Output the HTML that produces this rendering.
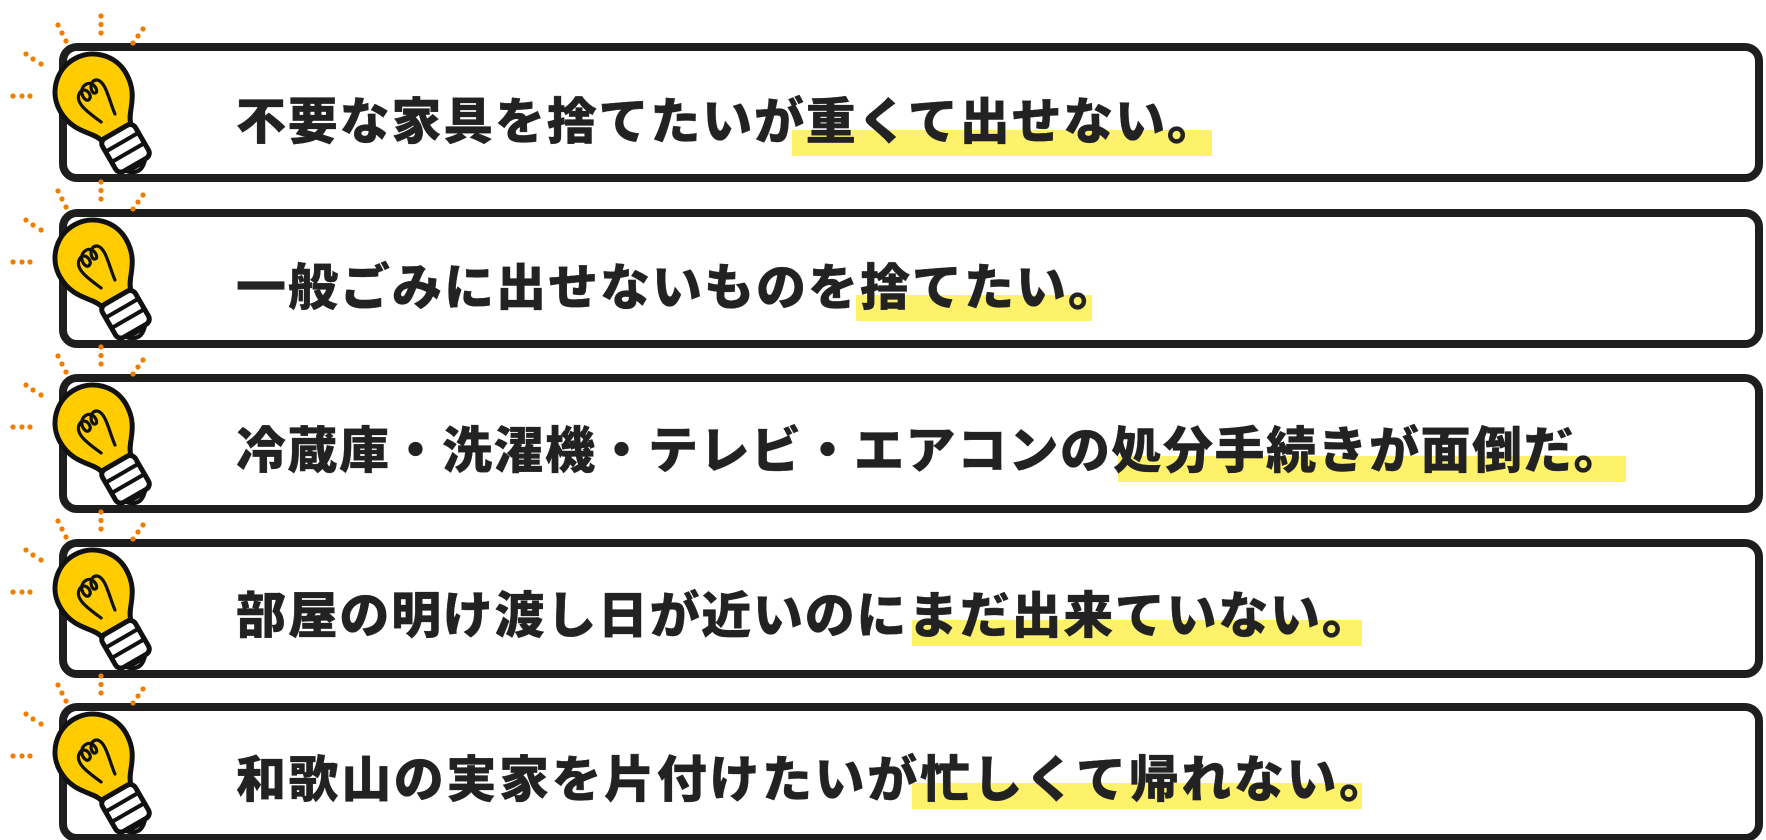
<!DOCTYPE html>
<html><head><meta charset="utf-8"><style>
html,body{margin:0;padding:0;background:#fff;width:1766px;height:840px;overflow:hidden;position:relative}
.box{position:absolute;left:59px;width:1688px;height:123px;border:8px solid #1e1e1e;border-radius:18px;background:#fff}
.hl{position:absolute;height:26px;background:#fff26b}
.t{position:absolute;left:236px;font-family:"Liberation Sans","Noto Sans CJK JP",sans-serif;font-weight:900;font-size:50px;line-height:50px;color:#222;white-space:nowrap;-webkit-text-stroke:0.3px #222}
svg{position:absolute;left:0;top:0}
</style></head><body>
<div class="box" style="top:43px"></div>
<div class="box" style="top:209px"></div>
<div class="box" style="top:374px"></div>
<div class="box" style="top:539px"></div>
<div class="box" style="top:703px"></div>

<div class="hl" style="top:130px;left:792px;width:420px"></div>
<div class="hl" style="top:295px;left:856px;width:236px"></div>
<div class="hl" style="top:456px;left:1118px;width:508px"></div>
<div class="hl" style="top:620px;left:912px;width:450px"></div>
<div class="hl" style="top:783px;left:912px;width:450px"></div>

<div class="t" style="top:97px;letter-spacing:1.8px">不要な家具を捨てたいが重くて出せない。</div>
<div class="t" style="top:263px;letter-spacing:2px">一般ごみに出せないものを捨てたい。</div>
<div class="t" style="top:426px;letter-spacing:1.5px">冷蔵庫・洗濯機・テレビ・エアコンの処分手続きが面倒だ。</div>
<div class="t" style="top:591px;letter-spacing:1.7px">部屋の明け渡し日が近いのにまだ出来ていない。</div>
<div class="t" style="top:755px;letter-spacing:2.6px">和歌山の実家を片付けたいが忙しくて帰れない。</div>

<svg width="1766" height="840" viewBox="0 0 1766 840">
<defs>
<g id="bulb">
  <g fill="#ee7d00">
    <circle cx="101" cy="16" r="2.6"/><circle cx="101" cy="24.5" r="2.6"/><circle cx="101" cy="33" r="2.6"/>
    <circle cx="58" cy="25" r="2.6"/><circle cx="62" cy="33" r="2.6"/><circle cx="66" cy="41" r="2.6"/>
    <circle cx="143" cy="29" r="2.6"/><circle cx="138" cy="36" r="2.6"/><circle cx="133" cy="43" r="2.6"/>
    <circle cx="26" cy="54" r="2.6"/><circle cx="33" cy="59" r="2.6"/><circle cx="41" cy="64" r="2.6"/>
    <circle cx="13" cy="96" r="2.6"/><circle cx="22" cy="96" r="2.6"/><circle cx="30" cy="96" r="2.6"/>
  </g>
  <g transform="translate(93,92) rotate(-30)">
    <path d="M-17 46 C-20 34 -38 26 -38 0 A38 38 0 1 1 38 0 C38 26 20 34 17 46 Z" fill="#ffcc00" stroke="#111" stroke-width="5" stroke-linejoin="round"/>
    <path d="M-10 86 Q0 96 10 86 Z" fill="#999" stroke="#111" stroke-width="4"/>
    <rect x="-19" y="46" width="38" height="38" rx="6" fill="#fff" stroke="#111" stroke-width="5"/>
    <line x1="-19" y1="58" x2="19" y2="58" stroke="#111" stroke-width="4"/>
    <line x1="-19" y1="70" x2="19" y2="70" stroke="#111" stroke-width="4"/>
    <path d="M-8 30 C-14 16 -22 0 -12 -6 C-4 -10 -2 2 -6 4 C-12 8 -14 -8 -4 -10 C6 -12 6 2 2 2 C-4 2 2 -14 10 -8 C16 -2 10 14 8 30" fill="none" stroke="#111" stroke-width="3.2" stroke-linecap="round"/>
  </g>
</g>
</defs>
<use href="#bulb"/>
<use href="#bulb" y="166"/>
<use href="#bulb" y="331"/>
<use href="#bulb" y="496"/>
<use href="#bulb" y="660"/>
</svg>
</body></html>
